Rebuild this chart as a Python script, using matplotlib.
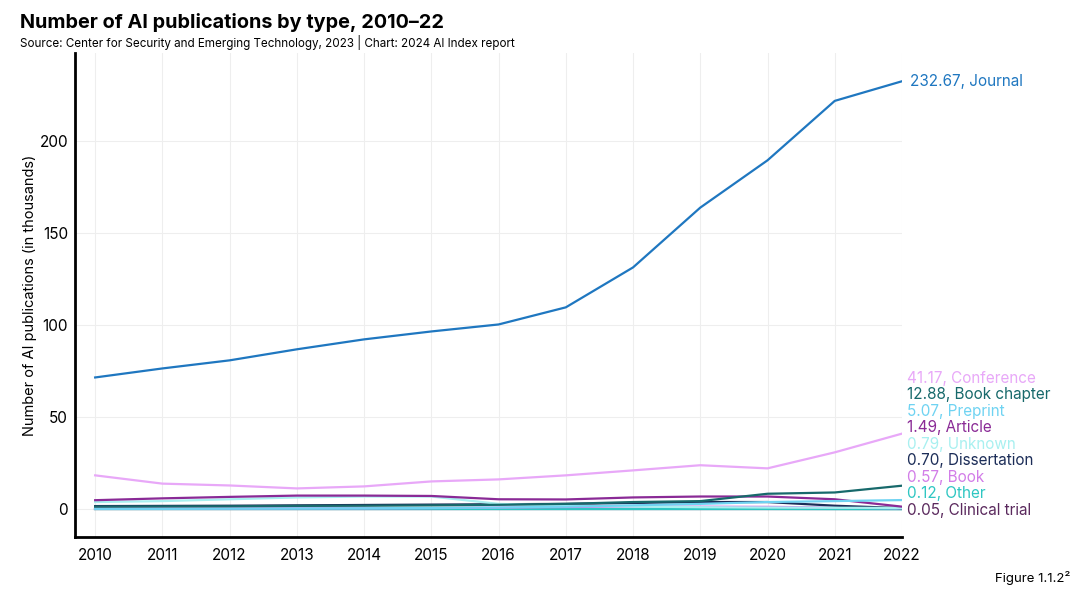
import numpy as np
import matplotlib.pyplot as plt

plt.rcParams['font.family'] = ['Inter', 'DejaVu Sans']

years = list(range(2010, 2023))

# values in thousands
journal = [71.7, 76.6, 81.0, 87.0, 92.4, 96.7, 100.5, 109.8, 131.5, 164.0, 189.7, 222.0, 232.67]
conference = [18.5, 14.0, 13.0, 11.4, 12.5, 15.2, 16.3, 18.5, 21.2, 24.0, 22.3, 31.0, 41.17]
book_chapter = [1.5, 1.6, 1.7, 1.9, 2.0, 2.2, 2.5, 3.0, 4.0, 4.5, 8.5, 9.2, 12.88]
preprint = [0.3, 0.3, 0.4, 0.5, 0.6, 0.8, 1.0, 1.5, 2.2, 3.0, 4.0, 4.5, 5.07]
article = [5.0, 6.0, 6.8, 7.5, 7.5, 7.3, 5.5, 5.4, 6.5, 7.0, 7.0, 5.5, 1.49]
unknown = [4.0, 4.5, 5.5, 6.5, 7.0, 7.0, 3.0, 2.0, 1.5, 1.2, 1.0, 0.9, 0.79]
dissertation = [1.8, 1.9, 2.0, 2.2, 2.4, 2.6, 2.8, 3.0, 3.5, 4.0, 4.0, 2.0, 0.70]
book = [0.5, 0.5, 0.5, 0.6, 0.6, 0.7, 1.0, 1.3, 1.5, 1.5, 1.4, 1.0, 0.57]
other = [0.2, 0.2, 0.2, 0.2, 0.2, 0.2, 0.2, 0.2, 0.2, 0.2, 0.2, 0.15, 0.12]
clinical = [0.05, 0.05, 0.05, 0.05, 0.05, 0.05, 0.05, 0.05, 0.05, 0.05, 0.05, 0.05, 0.05]

# (name, values, color) -- label order top to bottom
series = [
    ("Conference", conference, "#e8a8f8"),
    ("Book chapter", book_chapter, "#17696b"),
    ("Preprint", preprint, "#6fd3f2"),
    ("Article", article, "#8a2a96"),
    ("Unknown", unknown, "#a8f0f0"),
    ("Dissertation", dissertation, "#1c2d58"),
    ("Book", book, "#d27de8"),
    ("Other", other, "#2ec6c2"),
    ("Clinical trial", clinical, "#5b2a5e"),
]

fig = plt.figure(figsize=(10.9, 5.96), dpi=100)
ax = fig.add_axes([0.0688, 0.099, 0.7587, 0.812])

# draw small series first, journal on top
for name, vals, c in series[::-1]:
    ax.plot(years, vals, color=c, lw=1.6)
ax.plot(years, journal, color="#1f77c0", lw=1.6)

ax.set_xlim(2009.7, 2022)
ax.set_ylim(-15, 248)
ax.set_xticks(years)
ax.set_yticks([0, 50, 100, 150, 200])
ax.tick_params(length=0, labelsize=11)
ax.tick_params(axis="x", pad=8)
ax.tick_params(axis="y", pad=5)
ax.grid(True, color="#eeeeee", lw=0.8)
ax.set_axisbelow(True)
for s in ["top", "right"]:
    ax.spines[s].set_visible(False)
for s in ["left", "bottom"]:
    ax.spines[s].set_linewidth(2)
ax.set_ylabel("Number of AI publications (in thousands)", fontsize=10.5, va="center")
ax.yaxis.set_label_coords(-0.054, 0.5)

# end labels
ax.annotate(f"{journal[-1]:.2f}, Journal", xy=(2022, journal[-1]), xytext=(6, 0),
            textcoords="offset points", va="center", fontsize=11, color="#1f77c0",
            annotation_clip=False)
n = len(series)
for i, (name, vals, c) in enumerate(series):
    ypos = -0.5 + (n - 1 - i) * 8.97
    ax.text(2022.08, ypos, f"{vals[-1]:.2f}, {name}", va="center", fontsize=11,
            color=c, clip_on=False)

fig.text(0.018, 0.962, "Number of AI publications by type, 2010–22", fontsize=14.3,
         fontweight="bold", va="center")
fig.text(0.018, 0.928, "Source: Center for Security and Emerging Technology, 2023 | Chart: 2024 AI Index report",
         fontsize=8.4, va="center")
fig.text(0.982, 0.03, "Figure 1.1.2²", fontsize=9.5, ha="right", va="center")

fig.savefig("out.png", dpi=100)
